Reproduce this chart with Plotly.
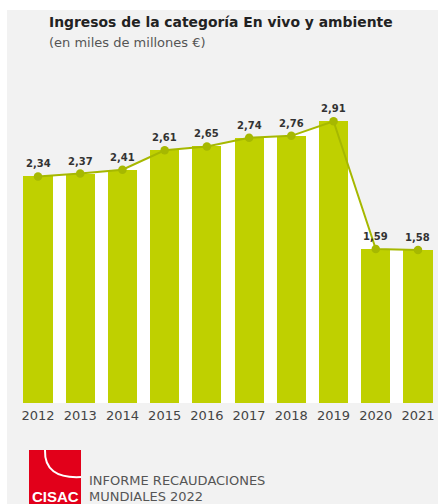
import plotly.graph_objects as go

W, H = 438, 504

years = [2012, 2013, 2014, 2015, 2016, 2017, 2018, 2019, 2020, 2021]
values = [2.34, 2.37, 2.41, 2.61, 2.65, 2.74, 2.76, 2.91, 1.59, 1.58]
tick_labels = [str(y) for y in years]
value_labels = [f"{v:.2f}".replace(".", ",") for v in values]

title_text = "Ingresos de la categoría En vivo y ambiente"
subtitle_text = "(en miles de millones €)"
footer_lines = ["INFORME RECAUDACIONES", "MUNDIALES 2022"]
logo_text = "CISAC"

BAR_COLOR = "#bfd000"
LINE_COLOR = "#a6b800"
PANEL = "#f2f2f2"
FONT = "DejaVu Sans"

def px(x):
    return x / W

def py(y):
    return 1 - y / H

x_range = [2011.1, 2021.474]
y_dom = [py(403), py(100)]
y_range = [0, (403 - 100) / 96.8]

fig = go.Figure()

# white fill under the line (drawn beneath the bars)
fig.add_trace(go.Scatter(
    x=years, y=values, mode="lines", line=dict(width=0, color="white"),
    fill="tozeroy", fillcolor="white", hoverinfo="skip", showlegend=False,
    xaxis="x", yaxis="y",
))

fig.add_trace(go.Bar(
    x=years, y=values, width=0.69, marker=dict(color=BAR_COLOR, line=dict(width=0)),
    showlegend=False, xaxis="x2", yaxis="y2",
))

fig.add_trace(go.Scatter(
    x=years, y=values, mode="lines+markers",
    line=dict(color=LINE_COLOR, width=2),
    marker=dict(color=LINE_COLOR, size=8.5),
    showlegend=False, xaxis="x2", yaxis="y2",
))

annotations = []
for yr, v, lab in zip(years, values, value_labels):
    annotations.append(dict(
        x=yr, y=v, xref="x2", yref="y2", text=lab, showarrow=False,
        yanchor="bottom", yshift=5,
        font=dict(family=FONT, size=10, color="#333333", weight="bold"),
    ))

annotations += [
    dict(x=px(47), y=py(22), xref="paper", yref="paper", text=title_text,
         showarrow=False, xanchor="left", yanchor="middle",
         font=dict(family=FONT, size=13.9, color="#222222", weight="bold")),
    dict(x=px(47), y=py(42), xref="paper", yref="paper", text=subtitle_text,
         showarrow=False, xanchor="left", yanchor="middle",
         font=dict(family=FONT, size=13, color="#555555")),
    dict(x=px(87), y=py(480), xref="paper", yref="paper", text=footer_lines[0],
         showarrow=False, xanchor="left", yanchor="middle",
         font=dict(family=FONT, size=13, color="#555555")),
    dict(x=px(87), y=py(496), xref="paper", yref="paper", text=footer_lines[1],
         showarrow=False, xanchor="left", yanchor="middle",
         font=dict(family=FONT, size=13, color="#555555")),
    dict(x=px(55), y=py(496), xref="paper", yref="paper", text=logo_text,
         showarrow=False, xanchor="center", yanchor="middle",
         font=dict(family="Liberation Sans", size=15, color="white", weight="bold")),
]

shapes = [
    dict(type="rect", xref="paper", yref="paper", x0=px(7), x1=1, y0=0, y1=py(10),
         fillcolor=PANEL, line=dict(width=0), layer="below"),
    dict(type="rect", xref="paper", yref="paper", x0=px(29), x1=px(81), y0=0, y1=py(450),
         fillcolor="#e2001a", line=dict(width=0), layer="above"),
    dict(type="path", xref="paper", yref="paper",
         path=f"M {px(45)} {py(450)} Q {px(44)} {py(479)} {px(81)} {py(477)}",
         line=dict(color="white", width=2), layer="above"),
]

axis_common = dict(range=x_range, domain=[0, 1], showgrid=False, zeroline=False,
                   showline=False, fixedrange=True)

fig.update_layout(
    width=W, height=H, autosize=False,
    margin=dict(l=0, r=0, t=0, b=0),
    paper_bgcolor="white", plot_bgcolor="rgba(0,0,0,0)",
    bargap=0,
    xaxis=dict(**axis_common, tickmode="array", tickvals=years, ticktext=tick_labels,
               ticks="", ticklabelstandoff=3,
               tickfont=dict(family=FONT, size=13, color="#444444")),
    yaxis=dict(range=y_range, domain=y_dom, visible=False, fixedrange=True),
    xaxis2=dict(**axis_common, overlaying="x", visible=False),
    yaxis2=dict(range=y_range, domain=y_dom, overlaying="y", visible=False, fixedrange=True),
    annotations=annotations,
    shapes=shapes,
)

fig.write_html(
    "out.html",
    config={"displayModeBar": False},
    post_script="document.body.style.margin='0';document.body.style.overflow='hidden';",
)
